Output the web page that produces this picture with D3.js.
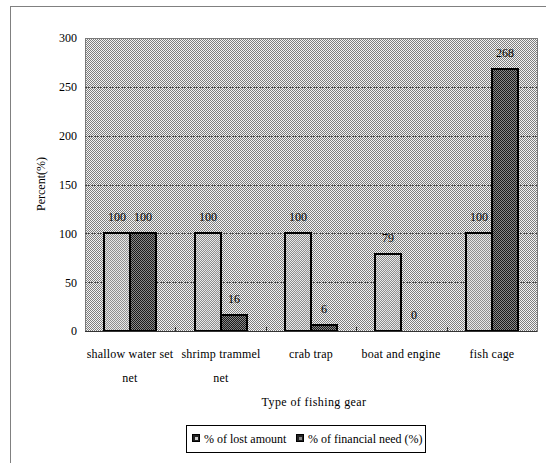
<!DOCTYPE html>
<html>
<head>
<meta charset="utf-8">
<script src="https://cdn.jsdelivr.net/npm/d3@7/dist/d3.min.js"></script>
<style>
  html, body { margin: 0; padding: 0; background: #fff; }
  svg { display: block; }
  svg text { font-family: "Liberation Serif", "Times New Roman", "DejaVu Serif", serif !important; fill: #000; }
</style>
</head>
<body>
<svg id="chart" width="546" height="463"></svg>
<script>
// Fishing gear losses versus financial need
const categories = ["shallow water set net", "shrimp trammel net", "crab trap", "boat and engine", "fish cage"];
const categoryLines = [["shallow water set", "net"], ["shrimp trammel", "net"], ["crab trap"], ["boat and engine"], ["fish cage"]];
const seriesNames = ["% of lost amount", "% of financial need (%)"];
const lostAmount = [100, 100, 100, 79, 100];
const financialNeed = [100, 16, 6, 0, 268];
const yTicks = [0, 50, 100, 150, 200, 250, 300];

const FONT = "'Liberation Serif', 'Times New Roman', 'DejaVu Serif', serif";
const svg = d3.select("#chart").style("font-family", FONT);
const plot = { left: 85, right: 537, top: 38, bottom: 331 };

// Fill patterns: dotted plot background, light and dark bar textures
const defs = svg.append("defs");
function checker(id, a, b) {
  const p = defs.append("pattern").attr("id", id)
    .attr("patternUnits", "userSpaceOnUse").attr("width", 2).attr("height", 2);
  p.append("rect").attr("width", 2).attr("height", 2).attr("fill", b);
  p.append("rect").attr("x", 0).attr("y", 0).attr("width", 1).attr("height", 1).attr("fill", a);
  p.append("rect").attr("x", 1).attr("y", 1).attr("width", 1).attr("height", 1).attr("fill", a);
}
checker("bgPat", "#7e7e7e", "#f4f4f4");
checker("lightPat", "#8e8e8e", "#e8e8e8");
checker("darkPat", "#1a1a1a", "#8a8a8a");
const seriesFill = ["url(#lightPat)", "url(#darkPat)"];

// Outer frame
svg.append("rect").attr("x", 10.5).attr("y", 6.5).attr("width", 560).attr("height", 480)
  .attr("fill", "none").attr("stroke", "#808080").attr("stroke-width", 1);

const x = d3.scaleBand().domain(categories).range([plot.left, plot.right]);
const x1 = d3.scaleBand().domain(seriesNames).range([-26, 26]);
const cx = d => Math.round(x(d) + x.bandwidth() / 2);
const y = d3.scaleLinear().domain([0, 300]).range([plot.bottom, plot.top]);

// Plot area
svg.append("rect").attr("x", plot.left).attr("y", plot.top)
  .attr("width", plot.right - plot.left).attr("height", plot.bottom - plot.top)
  .attr("fill", "url(#bgPat)").attr("stroke", "#7a7a7a").attr("stroke-width", 1)
  .attr("shape-rendering", "crispEdges");

// Horizontal gridlines
svg.append("g").selectAll("line").data(yTicks.filter(v => v > 0 && v < 300)).join("line")
  .attr("x1", plot.left).attr("x2", plot.right)
  .attr("y1", d => Math.round(y(d)) + 0.5).attr("y2", d => Math.round(y(d)) + 0.5)
  .attr("stroke", "#4a4a4a").attr("stroke-width", 1).attr("stroke-dasharray", "2,1");

// Y axis labels
const yAxis = svg.append("g").attr("transform", `translate(${plot.left - 8},0)`)
  .call(d3.axisLeft(y).tickValues(yTicks).tickSize(0).tickPadding(0));
yAxis.attr("font-family", null);
yAxis.select(".domain").remove();
yAxis.selectAll("text").style("font-size", "12px");

// Bars
const rows = categories.map((c, i) => ({ cat: c, values: [lostAmount[i], financialNeed[i]] }));
const groups = svg.append("g").selectAll("g").data(rows).join("g")
  .attr("transform", d => `translate(${cx(d.cat)},0)`);
groups.selectAll("rect").data(d => d.values.map((v, j) => ({ v, s: seriesNames[j], j })))
  .join("rect")
  .attr("x", d => x1(d.s)).attr("width", x1.bandwidth())
  .attr("y", d => Math.round(y(d.v))).attr("height", d => Math.round(y(0)) - Math.round(y(d.v)))
  .attr("fill", d => seriesFill[d.j])
  .attr("stroke", "#000").attr("stroke-width", 2);
groups.selectAll("text").data(d => d.values.map((v, j) => ({ v, s: seriesNames[j] })))
  .join("text")
  .attr("x", d => x1(d.s) + x1.bandwidth() / 2).attr("y", d => y(d.v) - 12)
  .attr("text-anchor", "middle").style("font-size", "12px")
  .text(d => d.v);

// Baseline and category ticks
svg.append("line").attr("x1", plot.left).attr("x2", plot.right)
  .attr("y1", plot.bottom + 0.5).attr("y2", plot.bottom + 0.5)
  .attr("stroke", "#333").attr("stroke-width", 1);
svg.append("g").selectAll("line").data(categories.slice(1)).join("line")
  .attr("x1", d => Math.round(x(d)) + 0.5).attr("x2", d => Math.round(x(d)) + 0.5)
  .attr("y1", plot.bottom).attr("y2", plot.bottom - 4)
  .attr("stroke", "#333");

// Category labels
const catG = svg.append("g").selectAll("text").data(categories).join("text")
  .attr("text-anchor", "middle").style("font-size", "12px").style("letter-spacing", "0.2px");
catG.each(function (d, i) {
  const t = d3.select(this);
  categoryLines[i].forEach((line, k) => {
    t.append("tspan").attr("x", cx(d)).attr("y", 358 + k * 24).text(line);
  });
});

// Axis titles
svg.append("text").attr("x", 314).attr("y", 406)
  .attr("text-anchor", "middle").style("font-size", "12px").style("letter-spacing", "0.4px")
  .text("Type of fishing gear");
svg.append("text").attr("transform", "translate(45,184) rotate(-90)")
  .attr("text-anchor", "middle").style("font-size", "12px")
  .text("Percent(%)");

// Legend
const legend = svg.append("g");
legend.append("rect").attr("x", 186.5).attr("y", 425.5).attr("width", 239).attr("height", 27)
  .attr("fill", "#fff").attr("stroke", "#000").attr("stroke-width", 1);
const items = [{ name: seriesNames[0], x: 192 }, { name: seriesNames[1], x: 296 }];
items.forEach((it, j) => {
  legend.append("rect").attr("x", it.x + 0.5).attr("y", 434.5).attr("width", 7).attr("height", 7)
    .attr("fill", "#222").attr("stroke", "#000");
  legend.append("rect").attr("x", it.x + 3).attr("y", 437).attr("width", 3).attr("height", 3)
    .attr("fill", j === 0 ? "#ccc" : "#888");
  legend.append("text").attr("x", it.x + 12).attr("y", 442.5).style("font-size", "12px")
    .text(it.name);
});
</script>
</body>
</html>
